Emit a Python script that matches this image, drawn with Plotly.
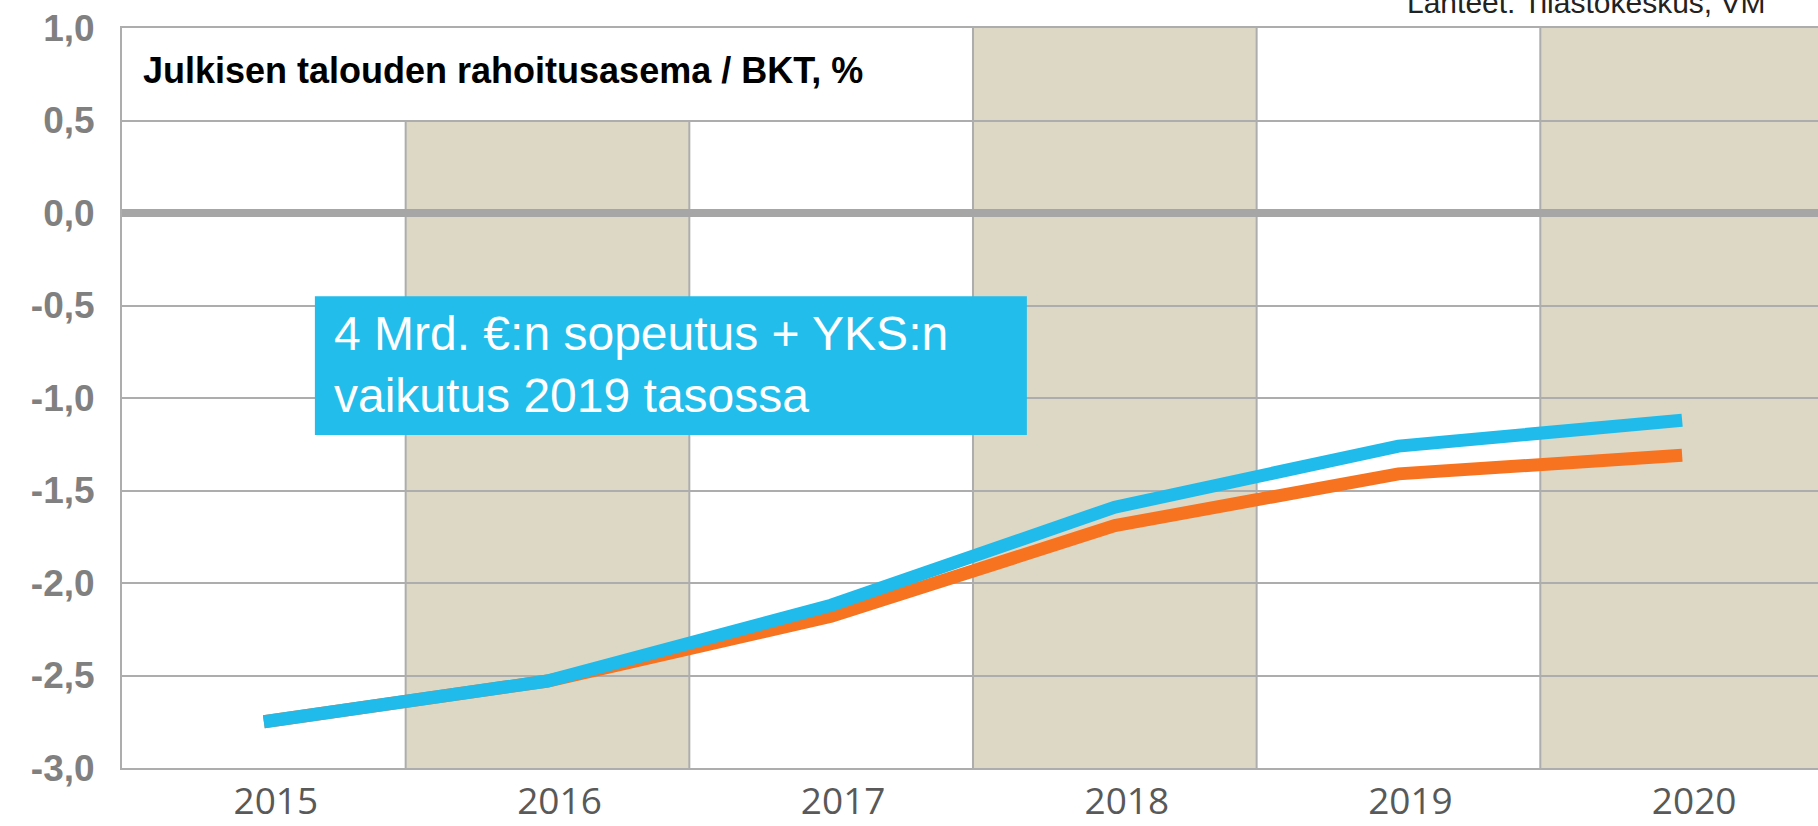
import plotly.graph_objects as go

years = ["2015", "2016", "2017", "2018", "2019", "2020"]
baseline = [-2.75, -2.53, -2.18, -1.69, -1.41, -1.31]      # orange
adjusted = [-2.75, -2.53, -2.12, -1.59, -1.26, -1.12]      # cyan
ytick_vals = [1.0, 0.5, 0.0, -0.5, -1.0, -1.5, -2.0, -2.5, -3.0]
ytick_text = ["1,0", "0,5", "0,0", "-0,5", "-1,0", "-1,5", "-2,0", "-2,5", "-3,0"]
title_text = "Julkisen talouden rahoitusasema / BKT, %"
box_text = "4 Mrd. €:n sopeutus + YKS:n<br>vaikutus 2019 tasossa"
source_text = "Lähteet: Tilastokeskus, VM"

xs = list(range(len(years)))
GRID = "#ADADAD"
BAND = "#DCD8C5"

fig = go.Figure()
fig.add_trace(go.Scatter(x=xs, y=baseline, mode="lines",
                         line=dict(color="#F7731F", width=13), hoverinfo="skip"))
fig.add_trace(go.Scatter(x=xs, y=adjusted, mode="lines",
                         line=dict(color="#20BBEA", width=13), hoverinfo="skip"))

shapes = []
for i in (1, 3, 5):
    top = 0.5 if i == 1 else 1.0
    shapes.append(dict(type="rect", xref="x", yref="y", x0=i - 0.5, x1=i + 0.5,
                       y0=-3, y1=top, fillcolor=BAND, line=dict(width=0), layer="below"))
for xe in (0.5, 1.5, 2.5, 3.5, 4.5):
    top = 0.5 if xe < 2 else 1.0
    shapes.append(dict(type="line", xref="x", yref="y", x0=xe, x1=xe, y0=-3, y1=top,
                       line=dict(color=GRID, width=2), layer="below"))
# blue text box
shapes.append(dict(type="rect", xref="x", yref="y", x0=0.18, x1=2.69, y0=-1.2, y1=-0.45,
                   fillcolor="#22BDEB", line=dict(width=0), layer="above"))

annotations = [
    dict(text=title_text, xref="paper", yref="y", x=0.0112, y=0.77, xanchor="left",
         yanchor="middle", showarrow=False,
         font=dict(family="Liberation Sans, Arial", size=36, color="#000000", weight="bold")),
    dict(text=box_text, xref="x", yref="y", x=0.24, y=-0.82, xanchor="left",
         yanchor="middle", align="left", showarrow=False,
         font=dict(family="Liberation Sans, Arial", size=48, color="#FFFFFF")),
    dict(text=source_text, xref="paper", yref="paper", x=0.9705, y=1.01, xanchor="right",
         yanchor="bottom", showarrow=False,
         font=dict(family="Liberation Sans, Arial", size=30, color="#222222")),
]

fig.update_layout(
    width=1818, height=826,
    margin=dict(l=122, r=0, t=28, b=58),
    paper_bgcolor="#FFFFFF", plot_bgcolor="#FFFFFF",
    showlegend=False,
    shapes=shapes, annotations=annotations,
    xaxis=dict(range=[-0.5, 5.479], tickvals=xs, ticktext=years, showgrid=False,
               zeroline=False, showline=True, linecolor=GRID, linewidth=2, mirror=True,
               ticks="", ticklabelshift=12, ticklabelstandoff=0, automargin=False,
               tickfont=dict(family="Open Sans, DejaVu Sans", size=37, color="#595959")),
    yaxis=dict(range=[-3, 1], tickvals=ytick_vals, ticktext=ytick_text, showgrid=True,
               gridcolor=GRID, gridwidth=2, zeroline=True, zerolinecolor="#A6A6A6",
               zerolinewidth=8, showline=True, linecolor=GRID, linewidth=2, ticks="",
               ticklabelstandoff=18, automargin=False,
               tickfont=dict(family="Liberation Sans Narrow, Arial Narrow, Liberation Sans",
                             size=37, color="#808080", weight="bold")),
)

fig.write_html("out.html", config={"displayModeBar": False},
               post_script="document.body.style.margin='0';document.body.style.overflow='hidden';")
